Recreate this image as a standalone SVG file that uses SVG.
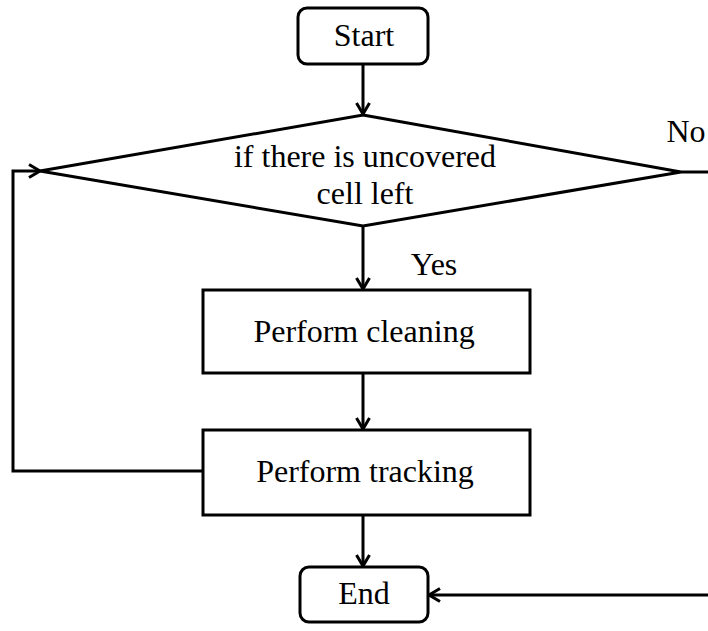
<svg xmlns="http://www.w3.org/2000/svg" width="708" height="631" viewBox="0 0 708 631">
  <defs>
    <style>
      .box { fill: #fff; stroke: #000; stroke-width: 3; }
      .lbl { font-family: "Liberation Serif", "Times New Roman", serif; font-size: 32px; fill: #000; text-anchor: middle; }
      .edge { fill: none; stroke: #000; stroke-width: 3; }
    </style>
    <marker id="arrow" markerWidth="16" markerHeight="16" refX="13" refY="8" orient="auto" markerUnits="userSpaceOnUse">
      <path d="M2,1.5 L13,8 L2,14.5" fill="none" stroke="#000" stroke-width="3"/>
    </marker>
  </defs>
  <rect width="708" height="631" fill="#fff"/>

  <g id="connectors">
    <line class="edge" x1="363" y1="64" x2="363" y2="114" marker-end="url(#arrow)"/>
    <line class="edge" x1="363" y1="226" x2="363" y2="289" marker-end="url(#arrow)"/>
    <line class="edge" x1="363" y1="373" x2="363" y2="429" marker-end="url(#arrow)"/>
    <polyline class="edge" points="203,471 13,471 13,171 40,171" marker-end="url(#arrow)"/>
    <line class="edge" x1="363" y1="515" x2="363" y2="566" marker-end="url(#arrow)"/>
    <line class="edge" x1="681" y1="172" x2="708" y2="172"/>
    <line class="edge" x1="708" y1="595" x2="429" y2="595" marker-end="url(#arrow)"/>
    <text class="lbl" x="686" y="142">No</text>
    <text class="lbl" x="434" y="275">Yes</text>
  </g>

  <g id="start">
    <rect class="box" x="298" y="8" width="130" height="56" rx="9"/>
    <text class="lbl" x="364" y="46">Start</text>
  </g>

  <g id="decision">
    <polygon class="box" points="363,115 681,172 363,226 40,171"/>
    <text class="lbl" x="365" y="167">if there is uncovered</text>
    <text class="lbl" x="365" y="204">cell left</text>
  </g>

  <g id="cleaning">
    <rect class="box" x="203" y="290" width="327" height="83"/>
    <text class="lbl" x="364" y="342">Perform cleaning</text>
  </g>

  <g id="tracking">
    <rect class="box" x="203" y="430" width="327" height="85"/>
    <text class="lbl" x="365" y="482">Perform tracking</text>
  </g>

  <g id="end">
    <rect class="box" x="300" y="567" width="128" height="55" rx="9"/>
    <text class="lbl" x="364" y="604">End</text>
  </g>
</svg>
